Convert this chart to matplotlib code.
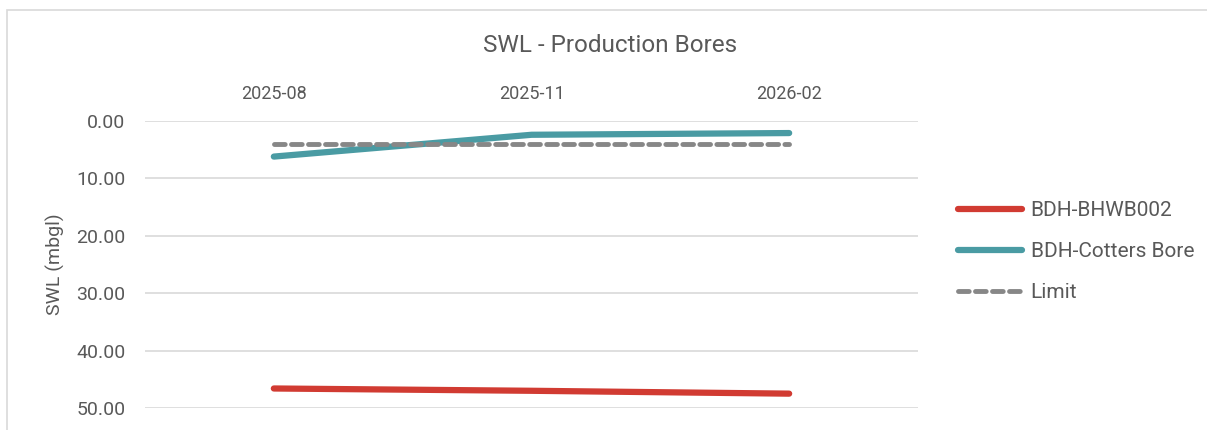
import numpy as np
import matplotlib
matplotlib.use('Agg')
import matplotlib.pyplot as plt
from matplotlib.patches import Rectangle

plt.rcParams['font.family'] = ['Roboto', 'DejaVu Sans']

# data
months = ['2025-08', '2025-11', '2026-02']
bhwb002 = [46.6, 47.0, 47.5]
cotters = [6.2, 2.4, 2.1]
limit = [4.0, 4.0, 4.0]

txt = '#595959'

fig = plt.figure(figsize=(12.07, 4.30), dpi=100)
fig.patches.append(Rectangle((7/1207, -0.1), 1.2, 1.1 - 10/430,
                             transform=fig.transFigure, fill=False,
                             edgecolor='#d9d9d9', linewidth=1.2))

ax = fig.add_axes([145/1207, 1 - 408/430, (918 - 145)/1207, (408 - 121)/430])
x = np.arange(len(months))
ax.plot(x, bhwb002, color='#d13b32', linewidth=4.5, solid_capstyle='round', label='BDH-BHWB002')
ax.plot(x, cotters, color='#4a9ba3', linewidth=4.5, solid_capstyle='round', label='BDH-Cotters Bore')
ax.plot(x, limit, color='#878787', linewidth=3.5, linestyle=(0, (2.2, 1.3)),
        dash_capstyle='round', label='Limit')

ax.set_xlim(-0.5, 2.5)
ax.set_ylim(50, 0)
ax.set_yticks([0, 10, 20, 30, 40, 50])
ax.set_yticklabels(['%.2f' % v for v in [0, 10, 20, 30, 40, 50]])
ax.set_xticks(x)
ax.set_xticklabels(months)
ax.xaxis.tick_top()
ax.tick_params(axis='both', length=0, colors=txt)
ax.tick_params(axis='x', labelsize=13, pad=13)
ax.tick_params(axis='y', labelsize=14, pad=14)
ax.grid(axis='y', color='#d9d9d9', linewidth=1.2)
for s in ax.spines.values():
    s.set_visible(False)

ax.set_ylabel('SWL (mbgl)', color=txt, fontsize=14)
ax.yaxis.set_label_coords(-0.1035, 0.5)
fig.text(610/1207, 1 - 46/430, 'SWL - Production Bores', ha='center', va='center',
         color=txt, fontsize=17.5)

leg = ax.legend(loc='center left', bbox_to_anchor=(1.027, 0.545), frameon=False,
                fontsize=15, labelcolor=txt, handlelength=3.1, handletextpad=0.4,
                labelspacing=1.06)

fig.savefig('out.png', dpi=100)
